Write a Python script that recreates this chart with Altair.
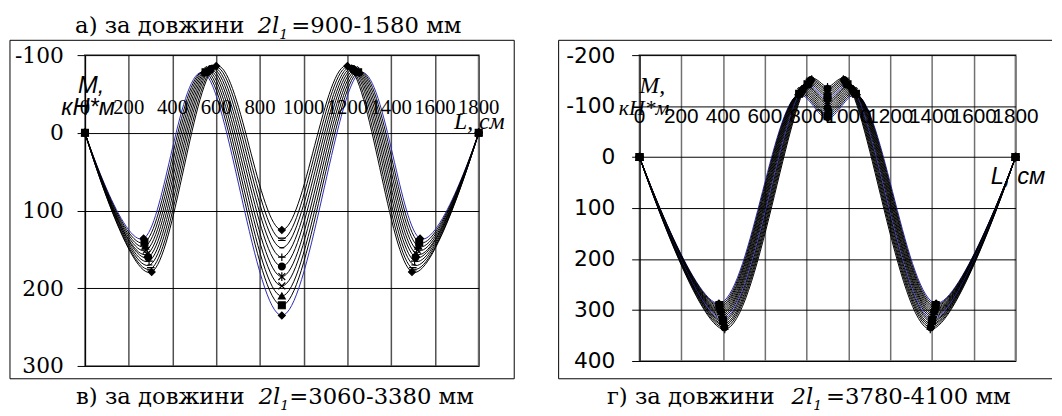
import altair as alt
import pandas as pd

# ---------------- data: left panel (в) 2l1 = 3060-3380 мм), 10 curves, blue first
L_x1 = [268, 272, 276, 280, 284, 289, 293, 297, 301, 305]
L_y1 = [136, 141, 146, 151, 156, 160, 165, 170, 175, 179]
L_x2 = [545, 551, 557, 563, 569, 575, 581, 587, 594, 600]
L_y2 = [-77, -78, -79, -80, -81, -82, -83, -84, -85, -86]
L_y3 = [235, 222, 210, 197, 185, 172, 160, 148, 137, 125]
L_x4 = [1255, 1249, 1243, 1237, 1231, 1225, 1219, 1213, 1206, 1200]
L_y4 = [-77, -78, -79, -80, -81, -82, -83, -84, -85, -86]
L_x5 = [1532, 1528, 1524, 1520, 1516, 1511, 1507, 1503, 1499, 1495]
L_y5 = [136, 141, 146, 151, 156, 160, 165, 170, 175, 179]

# ---------------- data: right panel (г) 2l1 = 3780-4100 мм), 17 curves, blue first
R_x1 = [380, 382, 384, 385, 387, 389, 391, 392, 394, 396, 398, 399, 401, 403, 405, 406, 408]
R_y1 = [287, 290, 293, 296, 299, 302, 305, 308, 311, 314, 317, 320, 323, 327, 330, 334, 338]
R_x2 = [760, 764, 768, 772, 776, 780, 784, 788, 792, 796, 800, 804, 808, 812, 816, 820, 824]
R_y2 = [-122, -124, -126, -128, -130, -132, -134, -136, -138, -139, -141, -143, -145, -147, -149, -151, -153]
R_y3 = [-76, -80, -84, -88, -92, -96, -100, -104, -107, -111, -115, -119, -123, -127, -131, -134, -138]
R_x4 = [1040, 1036, 1032, 1028, 1024, 1020, 1016, 1012, 1008, 1004, 1000, 996, 992, 988, 984, 980, 976]
R_y4 = [-122, -124, -126, -128, -130, -132, -134, -136, -138, -139, -141, -143, -145, -147, -149, -151, -153]
R_x5 = [1420, 1418, 1416, 1415, 1413, 1411, 1409, 1408, 1406, 1404, 1402, 1401, 1399, 1397, 1395, 1394, 1392]
R_y5 = [287, 290, 293, 296, 299, 302, 305, 308, 311, 314, 317, 320, 323, 327, 330, 334, 338]

X_TICKS = [0, 200, 400, 600, 800, 1000, 1200, 1400, 1600, 1800]
X_LABELS = ["0", "200", "400", "600", "800", "1000", "1200", "1400", "1600", "1800"]
L_YTICKS = [-100, 0, 100, 200, 300]
R_YTICKS = [-200, -100, 0, 100, 200, 300, 400]

MARKERS = ["diamond", "square", "triangle-up",
           "M-1,-1L1,1M-1,1L1,-1",
           "M-1,-1L1,1M-1,1L1,-1M0,-1.3L0,1.3",
           "circle",
           "M-1.1,0L1.1,0M0,-1.1L0,1.1",
           "M-0.7,0L0.7,0",
           "M-1.1,-0.35L1.1,-0.35M-1.1,0.35L1.1,0.35"]
BLUE = "#2a2ab4"

one = pd.DataFrame({"a": [0]})


def build(x1, y1, x2, y2, y3, x4, y4, x5, y5):
    rows = []
    for i in range(len(x1)):
        xs = [0, x1[i], x2[i], 900, x4[i], x5[i], 1800]
        ys = [0, y1[i], y2[i], y3[i], y4[i], y5[i], 0]
        for k in range(7):
            rows.append({"s": f"{i + 1:02d}", "x": xs[k], "y": ys[k], "k": k})
    return pd.DataFrame(rows)


def txt(s, x, y, font, size, italic=False, align="left"):
    return alt.Chart(one).mark_text(
        text=s, font=font, fontSize=size,
        fontStyle="italic" if italic else "normal",
        align=align, baseline="alphabetic", color="black"
    ).encode(x=alt.value(x), y=alt.value(y))


def frame(x0, x1, y0, y1, right=True):
    layers = []
    if right:
        layers.append(alt.Chart(one).mark_rect(fillOpacity=0, stroke="black", strokeWidth=1).encode(
            x=alt.value(x0), x2=alt.value(x1), y=alt.value(y0), y2=alt.value(y1)))
    else:
        for (a, b, c, d) in [(x0, x1, y0, y0), (x0, x1, y1, y1), (x0, x0, y0, y1)]:
            layers.append(alt.Chart(one).mark_rule(color="black", strokeWidth=1).encode(
                x=alt.value(a), x2=alt.value(b), y=alt.value(c), y2=alt.value(d)))
    return layers


def panel(df, yticks, ydom, ylab_font, ylab_size, xlab_font, xlab_size, xlab_dy,
          ypad, grid_col, anchor_x, interp):
    ids = sorted(df["s"].unique())
    n = len(ids)
    colors = [BLUE] + ["black"] * (n - 1)
    shapes = [MARKERS[i % len(MARKERS)] for i in range(n)]
    xs = alt.Scale(domain=[0, 1800], nice=False, zero=False)
    ys = alt.Scale(domain=ydom, reverse=True, nice=False, zero=False)
    X = alt.X("x:Q", scale=xs, axis=alt.Axis(values=X_TICKS, grid=True, gridColor=grid_col,
                                             gridWidth=1.5, labels=False, ticks=False,
                                             domain=False, title=None))
    Y = alt.Y("y:Q", scale=ys, axis=alt.Axis(values=yticks, grid=True, gridColor="black",
                                             gridWidth=1, domain=True, domainColor="black",
                                             ticks=True, tickColor="black", tickSize=8,
                                             labelFont=ylab_font, labelFontSize=ylab_size,
                                             labelColor="black", labelPadding=ypad,
                                             labelExpr="datum.value + ''",
                                             labelOverlap=False, title=None))
    if interp == "cardinal":
        lm = alt.Chart(df).mark_line(interpolate="cardinal", tension=0, strokeWidth=1)
    else:
        lm = alt.Chart(df).mark_line(interpolate=interp, strokeWidth=1)
    lines = lm.encode(
        x=X, y=Y, detail="s:N", order="k:Q",
        color=alt.Color("s:N", scale=alt.Scale(domain=ids, range=colors), legend=None))
    pts = alt.Chart(df).mark_point(filled=True, size=48, color="black", stroke="black",
                                   strokeWidth=1.2, opacity=1).encode(
        x=X, y=Y,
        shape=alt.Shape("s:N", scale=alt.Scale(domain=ids, range=shapes), legend=None))
    tdf = pd.DataFrame({"x": X_TICKS, "y": [0] * len(X_TICKS), "lab": X_LABELS})
    tl = alt.Chart(tdf).mark_text(font=xlab_font, fontSize=xlab_size, dy=xlab_dy,
                                  baseline="alphabetic", align="center", color="black").encode(
        x=X, y=Y, text="lab:N")
    anchor = alt.Chart(one).mark_rect(opacity=0).encode(
        x=alt.value(anchor_x), x2=alt.value(anchor_x + 1), y=alt.value(-44), y2=alt.value(-43))
    return [anchor, lines, pts, tl]


SERIF = "Liberation Serif"
SANS = "Liberation Sans"
WSERIF = "DejaVu Serif"
WSANS = "DejaVu Sans"

dfL = build(L_x1, L_y1, L_x2, L_y2, L_y3, L_x4, L_y4, L_x5, L_y5)
dfR = build(R_x1, R_y1, R_x2, R_y2, R_y3, R_x4, R_y4, R_x5, R_y5)

left_layers = panel(dfL, L_YTICKS, [-100, 300], WSERIF, 22, SERIF, 21, -19, 14,
                    "#505050", -76, "cardinal")
left_layers += frame(-76, 435, -15, 328)
left_layers += [
    txt("а) за довжини", -10, -22, WSERIF, 23),
    txt("2l", 175, -22, WSERIF, 23, italic=True),
    txt("1", 197, -16, WSERIF, 14, italic=True),
    txt("=900-1580 мм", 209, -22, WSERIF, 23),
    txt("в) за довжини", -9, 354, WSERIF, 23),
    txt("2l", 176, 354, WSERIF, 23, italic=True),
    txt("1", 198, 360, WSERIF, 14, italic=True),
    txt("=3060-3380 мм", 207, 354, WSERIF, 23),
    txt("М,", -7, 38, SANS, 24, italic=True),
    txt("кН*м", -24, 61, SANS, 24, italic=True),
    txt("L, см", 374, 75, SERIF, 24, italic=True),
]
left = alt.layer(*left_layers).properties(width=399, height=315)

right_layers = panel(dfR, R_YTICKS, [-200, 400], WSANS, 22, SANS, 21, -35, 17,
                     "#707070", -82, "catmull-rom")
right_layers += frame(-82, 418, -15, 328, right=False)
right_layers += [
    txt("г) за довжини", -33, 354, WSERIF, 23),
    txt("2l", 154, 354, WSERIF, 23, italic=True),
    txt("1", 176, 360, WSERIF, 14, italic=True),
    txt("=3780-4100 мм", 189, 354, WSERIF, 23),
    txt("М,", 0, 38, SERIF, 24, italic=True),
    txt("кН*м", -21, 61, SERIF, 22, italic=True),
    txt("L, см", 356, 131, SANS, 24, italic=True),
]
right = alt.layer(*right_layers).properties(width=381, height=310)

chart = alt.hconcat(left, right, spacing=41).properties(
    padding={"left": 0, "top": 0, "right": 0, "bottom": 0}
).configure_view(stroke="#8c8c8c", strokeWidth=2)

chart.save("out.html", embed_options={"renderer": "svg", "actions": False})
